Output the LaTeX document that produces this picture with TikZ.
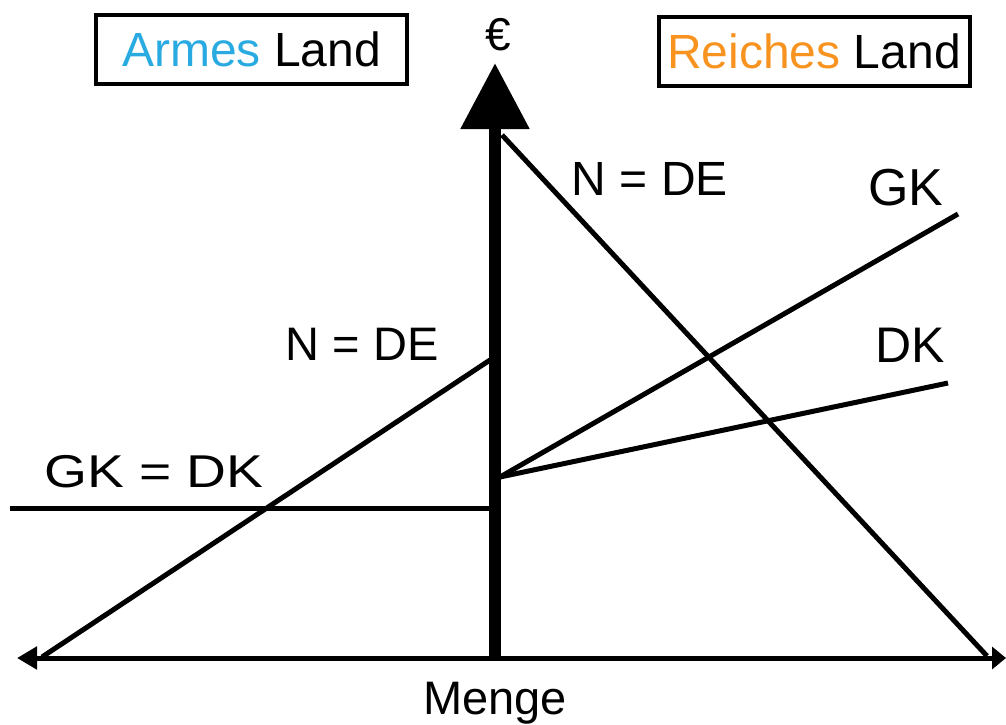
\documentclass[tikz,border=0pt]{standalone}
\usepackage{fontspec}
\setmainfont{Liberation Sans}
\usetikzlibrary{arrows.meta}

\definecolor{armblau}{RGB}{41,171,226}
\definecolor{reichorange}{RGB}{247,147,30}

\tikzset{
  kurve/.style={line width=5pt, line cap=butt},
  landbox/.style={draw, line width=4pt, minimum width=311pt, minimum height=69pt, inner sep=0pt, font=\fontsize{48}{58}\selectfont},
  beschr/.style={anchor=base, inner sep=0pt, font=\fontsize{#1}{#1}\selectfont},
  beschr/.default=47,
}

\begin{document}
\begin{tikzpicture}[x=1pt, y=-1pt, line join=miter]

  %% ════ Achsen ════
  \coordinate (ursprung) at (495,658);
  \coordinate (links)    at (17,658);
  \coordinate (rechts)   at (1006,658);
  \coordinate (oben)     at (495,63);
  \draw[line width=5pt, {Triangle[length=20pt,width=22pt]}-{Triangle[length=14pt,width=22pt]}] (links) -- (rechts);
  \draw[line width=12pt, -{Triangle[length=66pt,width=66pt]}] (ursprung) -- (oben);

  %% ════ Kurven ════
  % reiches Land (rechts)
  \coordinate (ndeR0) at (502,135);
  \coordinate (ndeR1) at (987,656);
  \coordinate (kR0)   at (500,477);
  \coordinate (gkR1)  at (958,214);
  \coordinate (dkR1)  at (948,383);
  \draw[kurve] (ndeR0) -- (ndeR1);
  \draw[kurve] (kR0) -- (gkR1);
  \draw[kurve] (kR0) -- (dkR1);
  % armes Land (links)
  \coordinate (ndeL0) at (490,360);
  \coordinate (ndeL1) at (42,657);
  \coordinate (kL0)   at (10,508);
  \coordinate (kL1)   at (493,508);
  \draw[kurve] (ndeL0) -- (ndeL1);
  \draw[kurve] (kL0) -- (kL1);

  %% ════ Beschriftungen ════
  \node[beschr=46] (euro)  at (498,50)  {€};
  \node[beschr]    (menge) at (495,714) {Menge};
  \node[beschr=48] (ndeR)  at (650,195) {N = DE};
  \node[beschr=52] (gkR)   at (906,205) {GK};
  \node[beschr=50] (dkR)   at (910,362) {DK};
  \node[beschr]    (ndeL)  at (362,360) {N = DE};
  \node[beschr=46, xscale=1.2] (gkdkL) at (154,487) {GK = DK};

  %% ════ Kästen ════
  \node[landbox] (arm)   at (251.5,49.5) {\textcolor{armblau}{Armes} Land};
  \node[landbox] (reich) at (814,51.5)   {\textcolor{reichorange}{Reiches} Land};

  % Seite auf 1006 x 724 festlegen
  \pgfresetboundingbox
  \path[use as bounding box] (0,0) rectangle (1006,724);
\end{tikzpicture}
\end{document}
